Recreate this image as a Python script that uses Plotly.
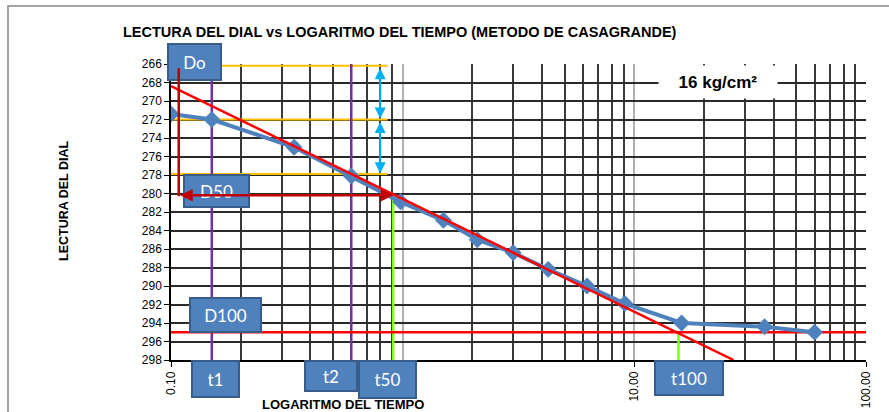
import numpy as np
import plotly.graph_objects as go

# ---- data ----
tiempo = [0.1, 0.15, 0.34, 0.6, 0.98, 1.5, 2.1, 3.0, 4.25, 6.25, 9.1, 16.0, 36.5, 60.0]
lectura = [271.4, 272.0, 275.0, 278.1, 280.9, 282.9, 285.0, 286.4, 288.2, 290.0, 291.9, 294.0, 294.4, 295.0]

# construction values (Casagrande)
tangent_t = [0.1, 26.8]
tangent_d = [268.4, 298.0]
orange_levels = [266.2, 272.0, 277.9]
orange_t = [0.1, 0.86]
cyan_t = 0.80
do_t = 0.108
D0 = 266.3
D50 = 280.2
D100 = 295.0
t1, t2, t50, t100 = 0.15, 0.6, 0.91, 15.5
y_min, y_max = 266, 298

major_ticks = [0.1, 1, 10, 100]
major_text = ["0.10", "1.00", "10.00", "100.00"]
minor_ticks = [m * d for d in (0.1, 1, 10) for m in range(2, 10)]

# ---- layout geometry (pixels) ----
W, H = 889, 412
L, R, T, B = 171, 23, 64, 52
PW, PH = W - L - R, H - T - B

def px(x):
    return (x - L) / PW

def py(y):
    return (H - B - y) / PH

AR = "Liberation Sans, Arial, sans-serif"
BOXF = "Lato, Open Sans, sans-serif"

fig = go.Figure()

# orange reference lines
for lv in orange_levels:
    fig.add_trace(go.Scatter(x=orange_t, y=[lv, lv], mode="lines",
                             line=dict(color="#ffc000", width=2), hoverinfo="skip"))
# purple t1, t2
for tv in (t1, t2):
    fig.add_trace(go.Scatter(x=[tv, tv], y=[y_min, y_max], mode="lines",
                             line=dict(color="#7030a0", width=2.5), hoverinfo="skip"))
# green t50, t100
fig.add_trace(go.Scatter(x=[t50, t50], y=[D50, y_max], mode="lines",
                         line=dict(color="#7fff20", width=2.5), hoverinfo="skip"))
fig.add_trace(go.Scatter(x=[t100, t100], y=[D100, y_max], mode="lines",
                         line=dict(color="#7fff20", width=2.5), hoverinfo="skip"))
# D100 horizontal red
fig.add_trace(go.Scatter(x=[0.1, 100], y=[D100, D100], mode="lines",
                         line=dict(color="#ff0000", width=2.5), hoverinfo="skip"))
# data series
fig.add_trace(go.Scatter(x=tiempo, y=lectura, mode="lines+markers",
                         line=dict(color="#4f81bd", width=4),
                         marker=dict(symbol="diamond", size=13, color="#4f81bd"),
                         hoverinfo="skip"))
# tangent red line
fig.add_trace(go.Scatter(x=tangent_t, y=tangent_d, mode="lines",
                         line=dict(color="#ff0000", width=2.5), hoverinfo="skip"))

annotations = []

def box(text, x0, y0, x1, y1, size=17):
    annotations.append(dict(
        xref="paper", yref="paper", x=px((x0 + x1) / 2), y=py((y0 + y1) / 2),
        xanchor="center", yanchor="middle", showarrow=False,
        text=text, font=dict(family=BOXF, size=size, color="white"),
        bgcolor="#4f81bd", bordercolor="#385d8a", borderwidth=2, borderpad=0,
        width=x1 - x0 - 4, height=y1 - y0 - 4))

box("Do", 167, 43, 222, 81)
box("D50", 183, 174, 250, 208)
box("D100", 189, 297, 262, 333)
box("t1", 191, 360, 240, 398)
box("t2", 304, 360, 358, 392)
box("t50", 358, 360, 417, 399)
box("t100", 654, 360, 724, 396)

# 16 kg/cm2 label
annotations.append(dict(
    xref="paper", yref="paper", x=px(718), y=py(82), xanchor="center", yanchor="middle",
    showarrow=False, text="<b>16 kg/cm²</b>", font=dict(family=AR, size=17, color="black"),
    bgcolor="white", width=118, height=32, borderpad=0))

lg = np.log10

def arrow(xa, ya, xb, yb, color, heads, width=2.5, head=2, size=1.0):
    annotations.append(dict(
        xref="x", yref="y", axref="x", ayref="y",
        x=lg(xb), y=yb, ax=lg(xa), ay=ya, text="", showarrow=True,
        arrowcolor=color, arrowwidth=width, arrowhead=head, startarrowhead=head,
        arrowsize=size, startarrowsize=size, arrowside=heads, standoff=0, startstandoff=0))

# cyan double arrows
arrow(cyan_t, orange_levels[0] + 0.1, cyan_t, orange_levels[1] - 0.1, "#00b0f0", "end+start", width=2, size=1.1)
arrow(cyan_t, orange_levels[1] + 0.1, cyan_t, orange_levels[2] - 0.1, "#00b0f0", "end+start", width=2, size=1.1)
# dark red construction
arrow(do_t, D0, do_t, D50 + 0.1, "#c00000", "none", width=2.5, head=0)
arrow(do_t, D50, t50, D50, "#c00000", "end+start", width=2.5, size=1.0)

# titles
annotations.append(dict(
    xref="paper", yref="paper", x=px(400), y=py(32), xanchor="center", yanchor="middle",
    showarrow=False, text="<b>LECTURA DEL DIAL vs LOGARITMO DEL TIEMPO (METODO DE CASAGRANDE)</b>",
    font=dict(family=AR, size=14.5, color="black")))
annotations.append(dict(
    xref="paper", yref="paper", x=px(64), y=py(201), xanchor="center", yanchor="middle",
    showarrow=False, text="<b>LECTURA DEL DIAL</b>", textangle=-90,
    font=dict(family=AR, size=12.5, color="black")))
annotations.append(dict(
    xref="paper", yref="paper", x=px(343), y=py(404), xanchor="center", yanchor="middle",
    showarrow=False, text="<b>LOGARITMO DEL TIEMPO</b>",
    font=dict(family=AR, size=13, color="black")))

# chart border
shapes = [dict(type="rect", xref="paper", yref="paper",
               x0=px(8), x1=px(895), y0=py(418), y1=py(6),
               line=dict(color="#868686", width=1.5), fillcolor="rgba(0,0,0,0)", layer="below")]

fig.update_layout(
    width=W, height=H, autosize=False, margin=dict(l=L, r=R, t=T, b=B, autoexpand=False),
    paper_bgcolor="white", plot_bgcolor="white", showlegend=False,
    annotations=annotations, shapes=shapes,
    xaxis=dict(type="log", range=[-1, 2], tickmode="array", tickvals=major_ticks,
               ticktext=major_text, tickangle=-90, ticks="outside", ticklen=5,
               tickcolor="black", tickfont=dict(family=AR, size=12, color="black"),
               showgrid=True, gridcolor="#b0b0b0", gridwidth=1.5,
               minor=dict(tickmode="array", tickvals=minor_ticks, showgrid=True,
                          gridcolor="#3a3a3a", gridwidth=1.5, ticks=""),
               showline=True, linecolor="black", linewidth=1.5, zeroline=False,
               automargin=False, fixedrange=True),
    yaxis=dict(range=[y_max, y_min], tick0=266, dtick=2, ticks="outside", ticklen=5,
               tickcolor="black", tickfont=dict(family=AR, size=12, color="black"),
               showgrid=True, gridcolor="#2a2a2a", gridwidth=1.5,
               showline=True, linecolor="black", linewidth=1.5, zeroline=False,
               automargin=False, fixedrange=True),
)

fig.write_html("out.html",
               config={"displayModeBar": False, "responsive": False},
               post_script="document.body.style.margin='0';document.body.style.overflow='hidden';")
